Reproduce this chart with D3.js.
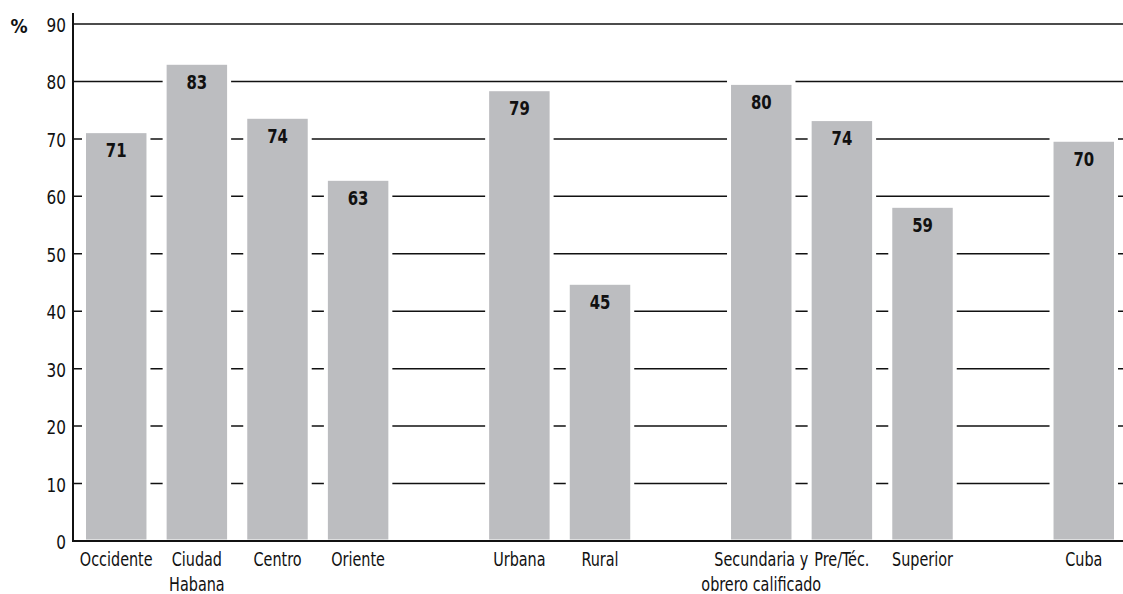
<!DOCTYPE html>
<html>
<head>
<meta charset="utf-8">
<script src="https://cdn.jsdelivr.net/npm/d3@7"></script>
<style>
  body { margin: 0; background: #fff; }
  text { font-family: "DejaVu Sans", sans-serif; font-stretch: condensed; fill: #111; }
</style>
</head>
<body>
<svg class="chart" width="1123" height="594"></svg>
<script>
// bar groups (a blank slot separates each group)
var groups = [
    ["Occidente", "Ciudad Habana", "Centro", "Oriente"],
    ["Urbana", "Rural"],
    ["Secundaria y obrero calificado", "Pre/Téc.", "Superior"],
    ["Cuba"]
];
// category labels, split in lines
var catLines = {
    "Occidente": ["Occidente"],
    "Ciudad Habana": ["Ciudad", "Habana"],
    "Centro": ["Centro"],
    "Oriente": ["Oriente"],
    "Urbana": ["Urbana"],
    "Rural": ["Rural"],
    "Secundaria y obrero calificado": ["Secundaria y", "obrero calificado"],
    "Pre/Téc.": ["Pre/Téc."],
    "Superior": ["Superior"],
    "Cuba": ["Cuba"]
};
var categories = ["Occidente", "Ciudad Habana", "Centro", "Oriente", "Urbana", "Rural",
                  "Secundaria y obrero calificado", "Pre/Téc.", "Superior", "Cuba"];
var values = [71.0, 82.9, 73.5, 62.7, 78.3, 44.6, 79.4, 73.1, 58.0, 69.5];
var valueLabels = ["71", "83", "74", "63", "79", "45", "80", "74", "59", "70"];
var yTicks = [0, 10, 20, 30, 40, 50, 60, 70, 80, 90];

var svg = d3.select(".chart"),
    width = +svg.attr("width"),
    height = +svg.attr("height");

var axisX = 73, y0 = 541, yTop = 24;

// slots: categories plus one spacer between groups
var slots = [];
groups.forEach(function(g, i) {
    if (i > 0) slots.push("gap" + i);
    g.forEach(function(c) { slots.push(c); });
});

var x = d3.scaleBand().domain(slots).range([86, 1114]).paddingInner(0.25).paddingOuter(0);
var y = d3.scaleLinear().domain([0, 90]).range([y0, yTop]);

var data = categories.map(function(c, i) {
    return {cat: c, value: values[i], label: valueLabels[i]};
});

// horizontal grid lines
svg.append("g")
    .selectAll("line")
    .data(yTicks.filter(function(t) { return t > 0; }))
    .enter().append("line")
    .attr("x1", axisX).attr("x2", width)
    .attr("y1", function(d) { return y(d); })
    .attr("y2", function(d) { return y(d); })
    .attr("stroke", "#111")
    .attr("stroke-width", 1.5);

// white halo behind each bar to cut the grid lines
var pad = 4, padTop = 6;
svg.append("g")
    .selectAll("rect")
    .data(data)
    .enter().append("rect")
    .attr("x", function(d) { return x(d.cat) - pad; })
    .attr("y", function(d) { return y(d.value) - padTop; })
    .attr("width", x.bandwidth() + 2 * pad)
    .attr("height", function(d) { return y0 - y(d.value) + padTop; })
    .attr("fill", "#fff");

svg.append("g")
    .selectAll("rect")
    .data(data)
    .enter().append("rect")
    .attr("x", function(d) { return x(d.cat); })
    .attr("y", function(d) { return y(d.value); })
    .attr("width", x.bandwidth())
    .attr("height", function(d) { return y0 - 1.5 - y(d.value); })
    .attr("fill", "#bcbdc0");

// value labels inside bar tops
svg.append("g")
    .selectAll("text")
    .data(data)
    .enter().append("text")
    .attr("transform", function(d) {
        return "translate(" + (x(d.cat) + x.bandwidth() / 2) + "," + (y(d.value) + 24) + ") scale(0.85,1)";
    })
    .attr("text-anchor", "middle")
    .style("font-size", "19.5px")
    .style("font-weight", "bold")
    .text(function(d) { return d.label; });

// axes lines
svg.append("line")
    .attr("x1", axisX).attr("x2", axisX)
    .attr("y1", 13).attr("y2", y0 + 1)
    .attr("stroke", "#111").attr("stroke-width", 2);
svg.append("line")
    .attr("x1", axisX - 1).attr("x2", width)
    .attr("y1", y0).attr("y2", y0)
    .attr("stroke", "#111").attr("stroke-width", 2);

// y tick labels
svg.append("g")
    .selectAll("text")
    .data(yTicks)
    .enter().append("text")
    .attr("transform", function(d) { return "translate(66," + (y(d) + 8) + ") scale(0.85,1)"; })
    .attr("text-anchor", "end")
    .style("font-size", "20px")
    .text(function(d) { return d; });

svg.append("text")
    .attr("x", 19).attr("y", 33)
    .attr("text-anchor", "middle")
    .style("font-size", "19px")
    .style("font-weight", "bold")
    .text("%");

// category labels
var cl = svg.append("g")
    .selectAll("text")
    .data(categories)
    .enter().append("text")
    .attr("text-anchor", "middle")
    .style("font-size", "20px")
    .attr("transform", function(d) {
        return "translate(" + (x(d) + x.bandwidth() / 2) + "," + (y0 + 25) + ") scale(0.8,1)";
    });
cl.selectAll("tspan")
    .data(function(d) { return catLines[d]; })
    .enter().append("tspan")
    .attr("x", 0)
    .attr("dy", function(d, i) { return i === 0 ? 0 : 25; })
    .text(function(d) { return d; });
</script>
</body>
</html>
